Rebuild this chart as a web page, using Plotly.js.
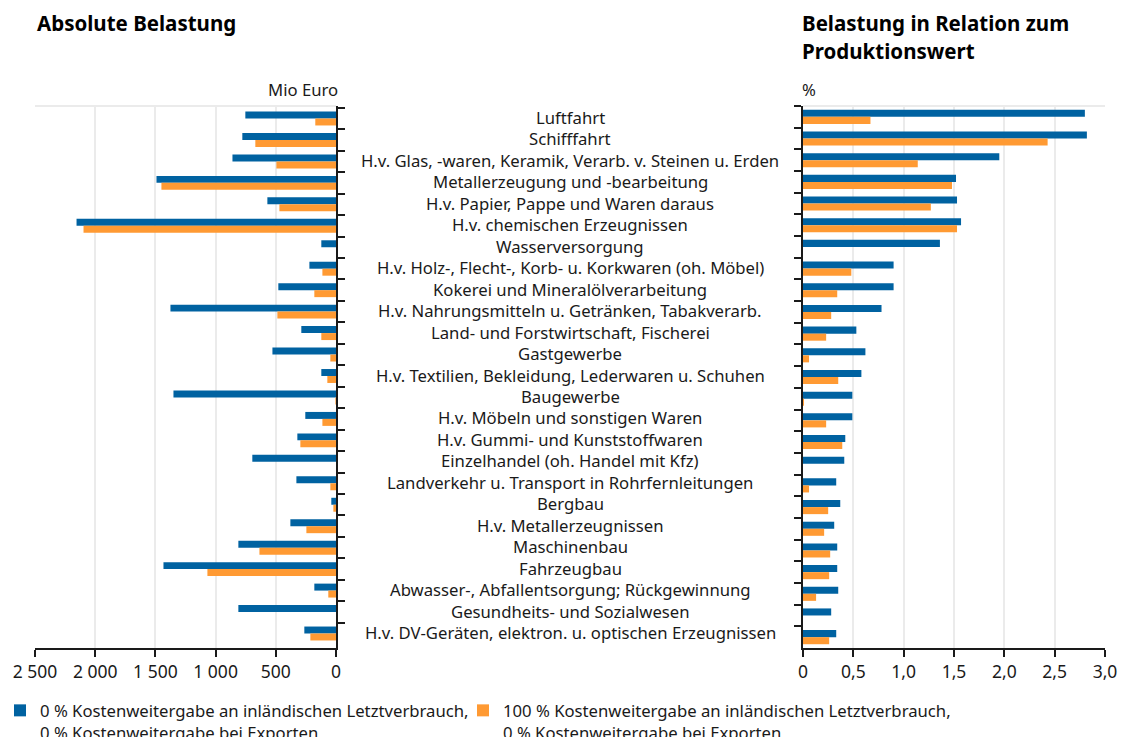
<!DOCTYPE html>
<html>
<head>
<meta charset="utf-8">
<script src="https://cdn.plot.ly/plotly-3.0.1.min.js"></script>
<style>html,body{margin:0;padding:0;background:#fff;}#chart{width:1121px;height:737px;}</style>
</head>
<body>
<div id="chart"></div>
<script>
const categories = [
  "Luftfahrt",
  "Schifffahrt",
  "H.v. Glas, -waren, Keramik, Verarb. v. Steinen u. Erden",
  "Metallerzeugung und -bearbeitung",
  "H.v. Papier, Pappe und Waren daraus",
  "H.v. chemischen Erzeugnissen",
  "Wasserversorgung",
  "H.v. Holz-, Flecht-, Korb- u. Korkwaren (oh. Möbel)",
  "Kokerei und Mineralölverarbeitung",
  "H.v. Nahrungsmitteln u. Getränken, Tabakverarb.",
  "Land- und Forstwirtschaft, Fischerei",
  "Gastgewerbe",
  "H.v. Textilien, Bekleidung, Lederwaren u. Schuhen",
  "Baugewerbe",
  "H.v. Möbeln und sonstigen Waren",
  "H.v. Gummi- und Kunststoffwaren",
  "Einzelhandel (oh. Handel mit Kfz)",
  "Landverkehr u. Transport in Rohrfernleitungen",
  "Bergbau",
  "H.v. Metallerzeugnissen",
  "Maschinenbau",
  "Fahrzeugbau",
  "Abwasser-, Abfallentsorgung; Rückgewinnung",
  "Gesundheits- und Sozialwesen",
  "H.v. DV-Geräten, elektron. u. optischen Erzeugnissen"
];

// Absolute Belastung (Mio Euro)
const absBlue   = [753, 778, 860, 1491, 570, 2155, 122, 221, 479, 1375, 288, 528, 122, 1350, 255, 321, 695, 329, 39, 379, 811, 1433, 180, 811, 263];
const absOrange = [172, 670, 495, 1450, 470, 2097, 0, 113, 180, 487, 122, 47, 72, 5, 113, 296, 0, 47, 22, 246, 636, 1068, 64, 0, 213];

// Belastung in Relation zum Produktionswert (%)
const relBlue   = [2.80, 2.82, 1.95, 1.52, 1.53, 1.57, 1.36, 0.90, 0.90, 0.78, 0.53, 0.62, 0.58, 0.49, 0.49, 0.42, 0.41, 0.33, 0.37, 0.31, 0.34, 0.34, 0.35, 0.28, 0.33];
const relOrange = [0.67, 2.43, 1.14, 1.48, 1.27, 1.53, 0, 0.48, 0.34, 0.28, 0.23, 0.06, 0.35, 0.01, 0.23, 0.39, 0, 0.06, 0.25, 0.21, 0.27, 0.26, 0.13, 0, 0.26];

const seriesNames = [
  "0 % Kostenweitergabe an inländischen Letztverbrauch,<br>0 % Kostenweitergabe bei Exporten",
  "100 % Kostenweitergabe an inländischen Letztverbrauch,<br>0 % Kostenweitergabe bei Exporten"
];

const absTickVals = [2500, 2000, 1500, 1000, 500, 0];
const absTickText = ["2 500", "2 000", "1 500", "1 000", "500", "0"];
const relTickVals = [0, 0.5, 1.0, 1.5, 2.0, 2.5, 3.0];
const relTickText = ["0", "0,5", "1,0", "1,5", "2,0", "2,5", "3,0"];

const BLUE = "#0062a1";
const ORANGE = "#ff9a33";
const FONT = "Noto Sans, Open Sans, sans-serif";
const GRID = "#ebebeb";
const TXT = "#1a1a1a";

const traces = [
  {type: "bar", orientation: "h", y: categories, x: absBlue, xaxis: "x", yaxis: "y",
   marker: {color: BLUE}, name: seriesNames[0], legendgroup: "a", showlegend: true, legend: "legend"},
  {type: "bar", orientation: "h", y: categories, x: absOrange, xaxis: "x", yaxis: "y",
   marker: {color: ORANGE}, name: seriesNames[1], legendgroup: "b", showlegend: true, legend: "legend2"},
  {type: "bar", orientation: "h", y: categories, x: relBlue, xaxis: "x2", yaxis: "y2",
   marker: {color: BLUE}, name: seriesNames[0], legendgroup: "a", showlegend: false},
  {type: "bar", orientation: "h", y: categories, x: relOrange, xaxis: "x2", yaxis: "y2",
   marker: {color: ORANGE}, name: seriesNames[1], legendgroup: "b", showlegend: false}
];

const W = 1121;
const TOP = 106, BOT = 648;
const py = pix => (BOT - pix) / (BOT - TOP);   // pixel row -> paper y

const annotations = categories.map(c => ({
  text: c, xref: "paper", x: 570 / W, yref: "y", y: c, yshift: 1,
  xanchor: "center", yanchor: "middle", showarrow: false,
  font: {family: FONT, size: 16.7, color: TXT}
}));
annotations.push(
  {text: "<b>Absolute Belastung</b>", xref: "paper", x: 35 / W, yref: "paper", y: py(23),
   xanchor: "left", yanchor: "middle", showarrow: false, font: {family: FONT, size: 20.5, color: "#000"}},
  {text: "<b>Belastung in Relation zum</b>", xref: "paper", x: 800 / W, yref: "paper", y: py(23),
   xanchor: "left", yanchor: "middle", showarrow: false, font: {family: FONT, size: 20.5, color: "#000"}},
  {text: "<b>Produktionswert</b>", xref: "paper", x: 800 / W, yref: "paper", y: py(51),
   xanchor: "left", yanchor: "middle", showarrow: false, font: {family: FONT, size: 20.5, color: "#000"}},
  {text: "Mio Euro", xref: "paper", x: 340 / W, yref: "paper", y: py(90),
   xanchor: "right", yanchor: "middle", showarrow: false, font: {family: FONT, size: 16.7, color: TXT}},
  {text: "%", xref: "paper", x: 800 / W, yref: "paper", y: py(90),
   xanchor: "left", yanchor: "middle", showarrow: false, font: {family: FONT, size: 16.7, color: TXT}}
);

const shapes = [
  {type: "line", xref: "x domain", yref: "y domain", x0: 0, x1: 1, y0: 1, y1: 1, line: {color: GRID, width: 2}},
  {type: "line", xref: "x2 domain", yref: "y2 domain", x0: 0, x1: 1, y0: 1, y1: 1, line: {color: GRID, width: 2}}
];

const yCommon = {
  type: "category", autorange: "reversed", showticklabels: false,
  showline: true, linecolor: TXT, linewidth: 2,
  ticks: "outside", tickson: "boundaries", ticklen: 7, tickwidth: 2, tickcolor: TXT,
  showgrid: false, zeroline: false, fixedrange: true
};

const xCommon = {
  showgrid: true, gridcolor: GRID, gridwidth: 2,
  showline: true, linecolor: TXT, linewidth: 2,
  ticks: "outside", ticklen: 7, tickwidth: 2, tickcolor: TXT,
  zeroline: false, tickfont: {family: FONT, size: 17.5, color: TXT}, fixedrange: true
};

const legendCommon = {
  orientation: "h", xref: "container", yref: "container", y: 1 - 693 / 737,
  xanchor: "left", yanchor: "top", valign: "top", itemwidth: 30,
  font: {family: FONT, size: 16.7, color: TXT}, bgcolor: "rgba(0,0,0,0)"
};

const layout = {
  width: 1121, height: 737,
  margin: {l: 0, r: 0, t: TOP, b: 737 - BOT},
  paper_bgcolor: "#fff", plot_bgcolor: "#fff",
  barmode: "group", bargap: 0.35, bargroupgap: 0,
  font: {family: FONT, size: 15, color: TXT},
  xaxis: Object.assign({}, xCommon, {
    domain: [35 / W, 336 / W], range: [2500, 0], anchor: "y",
    tickvals: absTickVals, ticktext: absTickText
  }),
  xaxis2: Object.assign({}, xCommon, {
    domain: [803 / W, 1105 / W], range: [0, 3], anchor: "y2",
    tickvals: relTickVals, ticktext: relTickText
  }),
  yaxis: Object.assign({}, yCommon, {anchor: "x", side: "right"}),
  yaxis2: Object.assign({}, yCommon, {anchor: "x2", side: "left"}),
  showlegend: true,
  legend: Object.assign({}, legendCommon, {x: -4 / W}),
  legend2: Object.assign({}, legendCommon, {x: 463 / W}),
  annotations: annotations,
  shapes: shapes
};

Plotly.newPlot("chart", traces, layout, {displayModeBar: false, staticPlot: true});
</script>
</body>
</html>
